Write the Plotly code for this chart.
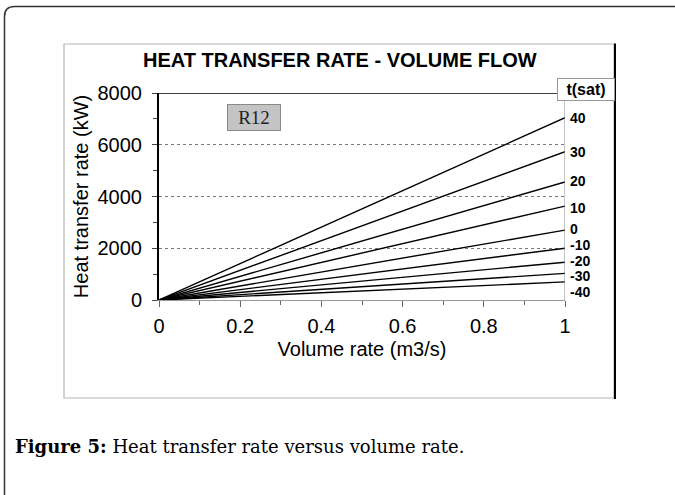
import plotly.graph_objects as go

# ---- data ----
volume_rate = [0.0, 1.0]
t_sat_labels = ["40", "30", "20", "10", "0", "-10", "-20", "-30", "-40"]
q_at_1 = [7045, 5730, 4560, 3630, 2700, 2000, 1460, 1030, 700]
label_shift = [0, 0, 1, -2, 1, 3, 1, -3, -10]  # px nudge of right labels
x_ticks = [0, 0.2, 0.4, 0.6, 0.8, 1]
x_tick_text = ["0", "0.2", "0.4", "0.6", "0.8", "1"]
y_ticks = [0, 2000, 4000, 6000, 8000]

W, H = 675, 495
L, R, T, B = 159, 565, 93, 300  # plot area pixels

SANS = "Liberation Sans, Arial, sans-serif"
SERIF = "Liberation Serif, Times New Roman, serif"
CAP_SERIF = "DejaVu Serif, serif"


def px(x):
    return (x - L) / (R - L)


def py(y):
    return (B - y) / (B - T)


fig = go.Figure()
for lab, v in zip(t_sat_labels, q_at_1):
    fig.add_trace(go.Scatter(x=volume_rate, y=[0, v], mode="lines",
                             line=dict(color="black", width=1.4),
                             showlegend=False, hoverinfo="skip", name=lab))

shapes = []
# outer rounded frame
r = 10
x0, y0, x1, y1 = 4.5, 6.5, 700, 520
path = (f"M {px(x0+r)},{py(y0)} L {px(x1)},{py(y0)} L {px(x1)},{py(y1)} "
        f"L {px(x0)},{py(y1)} L {px(x0)},{py(y0+r)} "
        f"Q {px(x0)},{py(y0)} {px(x0+r)},{py(y0)} Z")
shapes.append(dict(type="path", xref="paper", yref="paper", path=path,
                   line=dict(color="#333333", width=1.5), layer="below"))
# inner chart box
shapes.append(dict(type="rect", xref="paper", yref="paper",
                   x0=px(64), x1=px(614), y0=py(44), y1=py(398),
                   line=dict(color="#b5b5b5", width=1.2), layer="below"))
shapes.append(dict(type="line", xref="paper", yref="paper",
                   x0=px(615), x1=px(615), y0=py(43.5), y1=py(399),
                   line=dict(color="black", width=2)))
# top border of plot
shapes.append(dict(type="line", xref="x", yref="y", x0=0, x1=1, y0=8000, y1=8000,
                   line=dict(color="black", width=1.5)))
# right border of plot (below t(sat) box)
shapes.append(dict(type="line", xref="x", yref="y", x0=1, x1=1, y0=0, y1=7730,
                   line=dict(color="#888888", width=1)))

annotations = []
for lab, v, s in zip(t_sat_labels, q_at_1, label_shift):
    annotations.append(dict(x=1, y=v, xref="x", yref="y", text=f"<b>{lab}</b>",
                            showarrow=False, xanchor="left", xshift=4, yshift=s,
                            borderpad=0,
                            font=dict(family=SANS, size=14, color="black")))
# t(sat) header box
annotations.append(dict(x=px(557), y=py(90), xref="paper", yref="paper",
                        text="<b>t(sat)</b>", showarrow=False,
                        font=dict(family=SANS, size=16, color="black"),
                        bgcolor="white", bordercolor="#999999", borderwidth=1,
                        borderpad=1, width=54, height=19,
                        xanchor="left", yanchor="middle"))
# R12 box
annotations.append(dict(x=px(254), y=py(117.5), xref="paper", yref="paper",
                        text="R12", showarrow=False,
                        font=dict(family=SERIF, size=19, color="#222222"),
                        bgcolor="#c4c4c4", bordercolor="#8a8a8a", borderwidth=1,
                        borderpad=0, width=52, height=25,
                        xanchor="center", yanchor="middle"))
# chart title
annotations.append(dict(x=px(340), y=py(60), xref="paper", yref="paper",
                        text="<b>HEAT TRANSFER RATE - VOLUME FLOW</b>", showarrow=False,
                        font=dict(family=SANS, size=20, color="black"),
                        xanchor="center", yanchor="middle"))
# caption
annotations.append(dict(x=px(13), y=py(446), xref="paper", yref="paper",
                        text="<b>Figure 5:</b> Heat transfer rate versus volume rate.",
                        showarrow=False, xanchor="left", yanchor="middle",
                        font=dict(family=CAP_SERIF, size=18, color="black")))

fig.update_layout(
    width=W, height=H,
    margin=dict(l=L, r=W - R, t=T, b=H - B, pad=0),
    paper_bgcolor="white", plot_bgcolor="white",
    shapes=shapes, annotations=annotations,
    xaxis=dict(range=[0, 1], tickvals=x_ticks, ticktext=x_tick_text,
               ticks="outside", ticklen=6, tickcolor="#666666",
               ticklabelstandoff=2,
               minor=dict(dtick=0.1, ticks="outside", ticklen=4, tickcolor="#666666"),
               showline=True, linecolor="#999999", linewidth=1.2, showgrid=False,
               zeroline=False,
               tickfont=dict(family=SANS, size=20, color="black"),
               title=dict(text="Volume rate (m3/s)", standoff=5,
                          font=dict(family=SANS, size=20, color="black"))),
    yaxis=dict(range=[0, 8000], tickvals=y_ticks, ticks="outside", ticklen=5,
               tickcolor="#444444", ticklabelstandoff=6,
               minor=dict(dtick=1000, ticks="outside", ticklen=4, tickcolor="#444444",
                          showgrid=False),
               showline=True, linecolor="black", linewidth=2,
               showgrid=True, gridcolor="#7a7a7a", griddash="3px,3px", gridwidth=1,
               zeroline=False,
               tickfont=dict(family=SANS, size=20, color="black"),
               title=dict(text="Heat transfer rate (kW)", standoff=4,
                          font=dict(family=SANS, size=20, color="black"))),
)

fig.write_html("out.html", config={"displayModeBar": False},
               post_script="document.body.style.margin='0';")
